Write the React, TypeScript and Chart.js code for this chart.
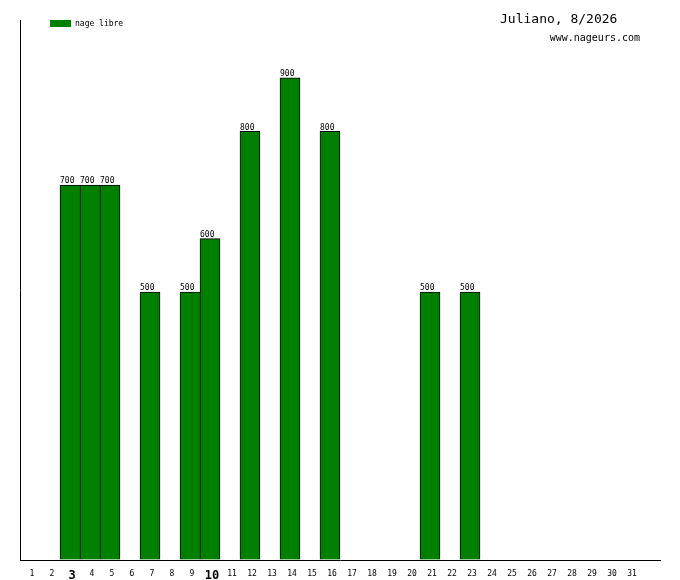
import { useEffect, useRef } from "react"
import { Chart, registerables, Plugin } from "chart.js"

Chart.register(...registerables)

// Days of the month; the last empty slot keeps the axis running past day 31.
const days: string[] = [
  "1", "2", "3", "4", "5", "6", "7", "8", "9", "10", "11", "12", "13", "14", "15", "16",
  "17", "18", "19", "20", "21", "22", "23", "24", "25", "26", "27", "28", "29", "30", "31", "",
]

// Metres swum per day (null = no session)
const nageLibre: (number | null)[] = [
  null, null, 700, 700, 700, null, 500, null, 500, 600, null, 800, null, 900, null, 800,
  null, null, null, null, 500, null, 500, null, null, null, null, null, null, null, null, null,
]

// Days shown with a big bold tick label
const boldDays: string[] = ["3", "10"]

const seriesName = "nage libre"
const titleText = "Juliano, 8/2026"
const siteText = "www.nageurs.com"
const yMax = 1008

const GREEN = "#008000"
const MONO = "'DejaVu Sans Mono', monospace"

const decorations: Plugin<"bar"> = {
  id: "decorations",
  afterDatasetsDraw(chart) {
    const ctx = chart.ctx
    ctx.save()
    // value labels over each bar, starting at the bar's left edge
    const meta = chart.getDatasetMeta(0)
    ctx.fillStyle = "#000"
    ctx.font = `8px ${MONO}`
    ctx.textAlign = "left"
    ctx.textBaseline = "bottom"
    meta.data.forEach((el: any, i) => {
      const v = nageLibre[i]
      if (v == null) return
      ctx.fillText(String(v), el.x - el.width / 2, el.y)
    })
    // legend
    ctx.fillStyle = GREEN
    ctx.fillRect(50, 20, 21, 7)
    ctx.fillStyle = "#000"
    ctx.textBaseline = "middle"
    ctx.fillText(seriesName, 75, 24)
    // title + site
    ctx.textBaseline = "alphabetic"
    ctx.font = `13px ${MONO}`
    ctx.fillText(titleText, 500, 23)
    ctx.textAlign = "right"
    ctx.font = `10px ${MONO}`
    ctx.fillText(siteText, 640, 41)
    ctx.restore()
  },
}

function DayChart() {
  const canvasRef = useRef<HTMLCanvasElement | null>(null)
  const chartRef = useRef<Chart | null>(null)

  useEffect(() => {
    if (!canvasRef.current) return
    chartRef.current?.destroy()
    chartRef.current = new Chart(canvasRef.current, {
      type: "bar",
      data: {
        labels: days,
        datasets: [
          {
            label: seriesName,
            data: nageLibre,
            backgroundColor: GREEN,
            borderColor: "#000",
            // share the border between touching bars
            borderWidth: (c: any) => {
              const next = nageLibre[c.dataIndex + 1]
              return { top: 1, left: 1, bottom: 0, right: next != null ? 0 : 1 }
            },
            borderSkipped: false,
            categoryPercentage: 1,
            barPercentage: 1,
          },
        ],
      },
      options: {
        responsive: false,
        animation: false,
        layout: { padding: { left: 20, right: 20, top: 20, bottom: 0 } },
        plugins: {
          legend: { display: false },
          tooltip: { enabled: false },
        },
        scales: {
          x: {
            grid: { display: true, color: "transparent", drawTicks: false },
            border: { display: true, color: "#000", width: 1 },
            afterFit: (s: any) => {
              s.height = 20
            },
            ticks: {
              padding: 9,
              labelOffset: 2,
              color: "#000",
              autoSkip: false,
              maxRotation: 0,
              font: (c: any) =>
                boldDays.includes(days[c.index])
                  ? { family: MONO, size: 12, weight: "bold" }
                  : { family: MONO, size: 8 },
            },
          },
          y: {
            min: 0,
            max: yMax,
            grid: { display: true, color: "transparent", drawTicks: false },
            border: { display: true, color: "#000", width: 1 },
            ticks: { display: false },
            afterFit: (s: any) => {
              s.width = 0
            },
          },
        },
      },
      plugins: [decorations],
    })
    return () => {
      chartRef.current?.destroy()
      chartRef.current = null
    }
  }, [])

  return <canvas ref={canvasRef} width={680} height={580} />
}

export default function App() {
  return (
    <div style={{ position: "absolute", left: 0, top: 0, width: 680, height: 580, background: "#fff" }}>
      <DayChart />
    </div>
  )
}
